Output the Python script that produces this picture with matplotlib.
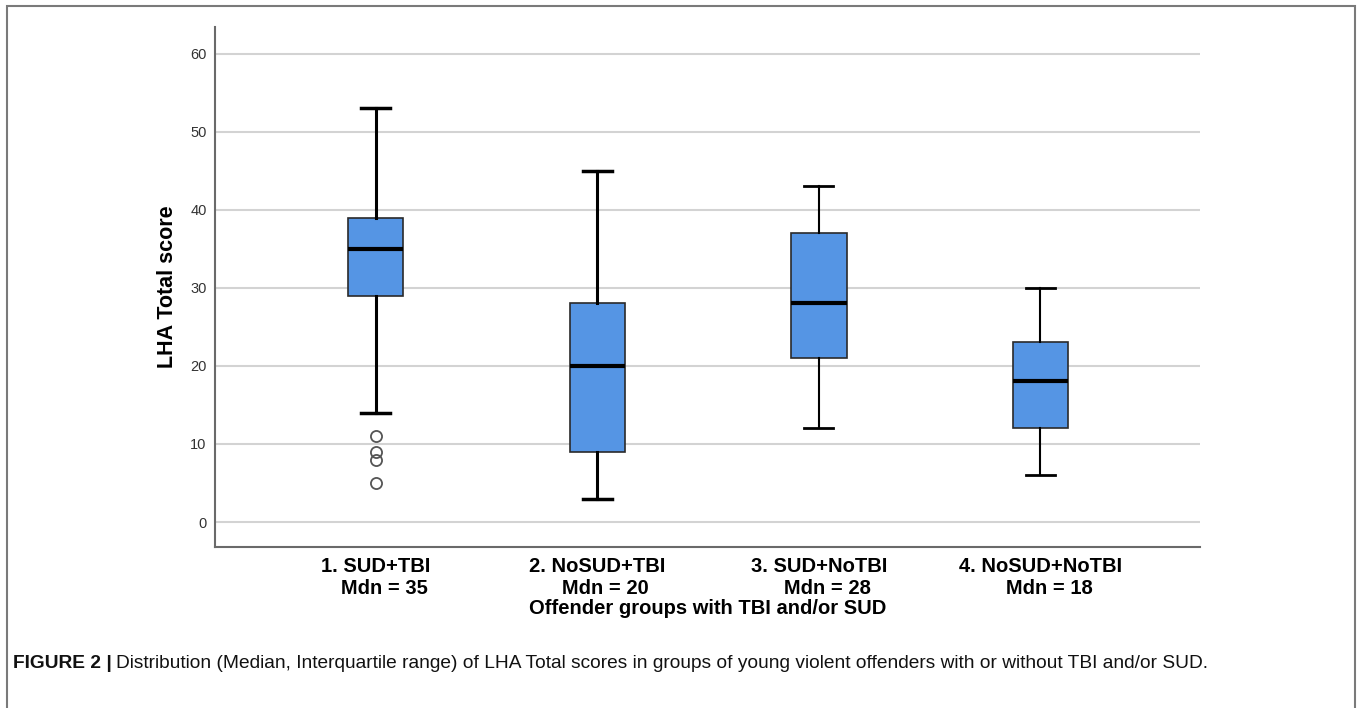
import matplotlib
matplotlib.use("Agg")
import matplotlib.pyplot as plt
from matplotlib.patches import Rectangle

plt.rcParams['font.family'] = ['Liberation Sans', 'DejaVu Sans']

# valeurs (score LHA total)
groups = ['1. SUD+TBI', '2. NoSUD+TBI', '3. SUD+NoTBI', '4. NoSUD+NoTBI']
medians = [35, 20, 28, 18]
q1 = [29, 9, 21, 12]
q3 = [39, 28, 37, 23]
whisk_lo = [14, 3, 12, 6]
whisk_hi = [53, 45, 43, 30]
outliers = [[11, 9, 8, 5], [], [], []]
yticks = [0, 10, 20, 30, 40, 50, 60]

stats = []
for i, g in enumerate(groups):
    stats.append({'label': g + '\n   Mdn = %d' % medians[i],
                  'med': medians[i], 'q1': q1[i], 'q3': q3[i],
                  'whislo': whisk_lo[i], 'whishi': whisk_hi[i],
                  'fliers': outliers[i]})

fig = plt.figure(figsize=(13.57, 7.08), dpi=100)
ax = fig.add_axes([215/1357, 161/708, 985/1357, 520/708])

bp = ax.bxp(stats, positions=range(1, 5), widths=0.25, patch_artist=True,
            boxprops=dict(facecolor='#5595e4', edgecolor='#2a2a2a', linewidth=1.2),
            medianprops=dict(color='black', linewidth=3),
            whiskerprops=dict(color='black', linewidth=2.2),
            capprops=dict(color='black', linewidth=2.5),
            capwidths=0.13,
            flierprops=dict(marker='o', markersize=8, markerfacecolor='none',
                            markeredgecolor='#555555', markeredgewidth=1.3),
            zorder=3)
# moustaches plus fines pour les groupes 3 et 4 (comme sur l'original)
for line in bp['whiskers'][4:]:
    line.set_linewidth(1.5)
for line in bp['caps'][4:]:
    line.set_linewidth(2)

ax.set_xlim(0.275, 4.72)
ax.set_ylim(-3.2, 63.4)
ax.set_yticks(yticks)
ax.yaxis.grid(True, color='#d3d3d3', linewidth=1.5, zorder=0)
ax.set_axisbelow(True)
for s in ['top', 'right']:
    ax.spines[s].set_visible(False)
for s in ['left', 'bottom']:
    ax.spines[s].set_color('#6a6a6a')
    ax.spines[s].set_linewidth(1.5)
ax.tick_params(axis='both', length=0)
ax.tick_params(axis='y', labelsize=10.5, labelcolor='#333333', pad=6)
ax.tick_params(axis='x', pad=7)
for lab in ax.get_xticklabels():
    lab.set_fontsize(14.5)
    lab.set_fontweight('bold')
    lab.set_multialignment('center')

ax.set_ylabel('LHA Total score', fontsize=15.5, fontweight='bold', labelpad=9)
ax.set_xlabel('Offender groups with TBI and/or SUD', fontsize=14.5,
              fontweight='bold', labelpad=1)

# cadre et légende de la figure
fig.patches.append(Rectangle((7/1357, -0.05), 1348/1357, 1.05 - 6/708,
                             transform=fig.transFigure, fill=False,
                             edgecolor='#7a7a7a', linewidth=1.5))
t1 = fig.text(13/1357, 1 - 664/708, 'FIGURE 2 |', fontsize=13.8,
              fontweight='bold', va='center', color='#111111')
fig.canvas.draw()
bb = t1.get_window_extent()
fig.text(bb.x1/1357 + 4/1357, 1 - 664/708,
         'Distribution (Median, Interquartile range) of LHA Total scores in groups '
         'of young violent offenders with or without TBI and/or SUD.',
         fontsize=13.8, va='center', color='#111111')

fig.savefig('out.png', dpi=100)
